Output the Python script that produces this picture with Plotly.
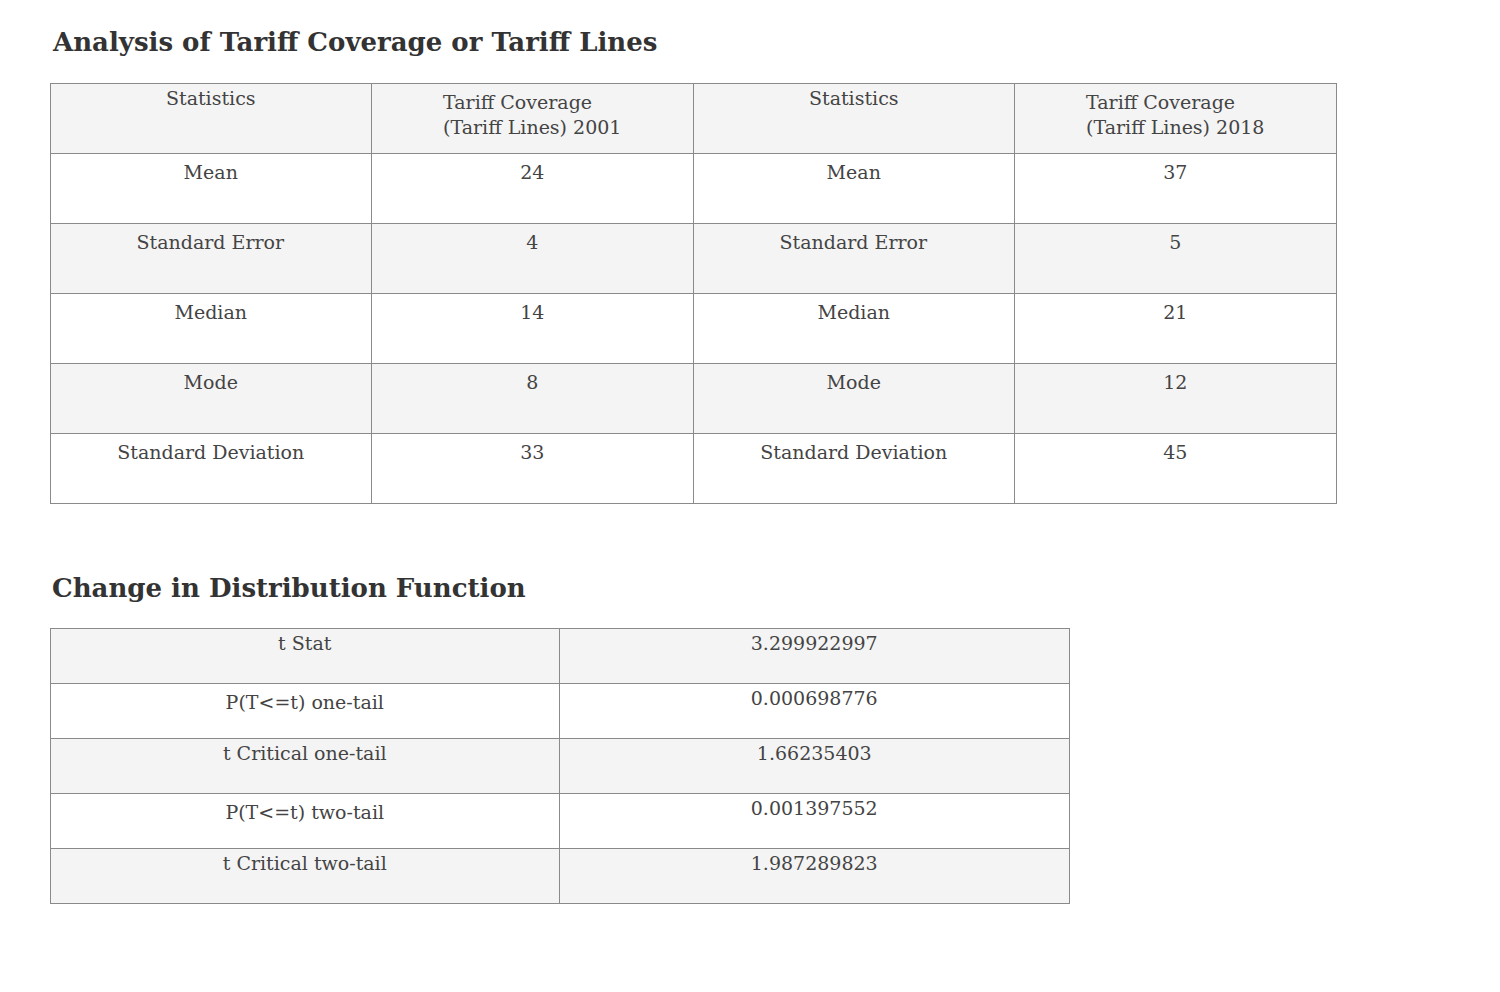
import plotly.graph_objects as go

W, H = 1500, 992

# Table 1 data
stats_labels = ["Mean", "Standard Error", "Median", "Mode", "Standard Deviation"]
cov_2001 = [24, 4, 14, 8, 33]
cov_2018 = [37, 5, 21, 12, 45]
headers1 = ["Statistics", "Tariff Coverage<br>(Tariff Lines) 2001",
            "Statistics", "Tariff Coverage<br>(Tariff Lines) 2018"]

# Table 2 data
test_labels = ["t Stat", "P(T<=t) one-tail", "t Critical one-tail",
               "P(T<=t) two-tail", "t Critical two-tail"]
test_values = ["3.299922997", "0.000698776", "1.66235403",
               "0.001397552", "1.987289823"]

FONT = "DejaVu Serif"
TXT = "#444444"
GREY = "#f4f4f4"
LINE = "#8a8a8a"
OFF = 8  # plotly table inner offset


def px_x(a, b):
    return [(a - OFF) / W, (b - OFF) / W]


def px_y(top, bottom):
    return [1 - (bottom - OFF) / H, 1 - (top - OFF) / H]


def pad(vals):
    # push text down so it sits near the middle of tall rows
    return [f"<br>{v}" for v in vals]


fig = go.Figure()

row_fill1 = ["white" if i % 2 == 0 else GREY for i in range(len(stats_labels))]
fig.add_trace(go.Table(
    domain=dict(x=px_x(50, 1336), y=px_y(83, 510)),
    columnwidth=[1, 1, 1, 1],
    header=dict(values=headers1, fill_color=GREY, line_color=LINE,
                align="center", height=70,
                font=dict(family=FONT, size=19, color=TXT)),
    cells=dict(values=[pad(stats_labels), pad(cov_2001),
                       pad(stats_labels), pad(cov_2018)],
               fill_color=[row_fill1] * 4, line_color=LINE, align="center",
               height=70, font=dict(family=FONT, size=19, color=TXT)),
))

row_fill2 = [GREY if i % 2 == 0 else "white" for i in range(len(test_labels))]
fig.add_trace(go.Table(
    domain=dict(x=px_x(50, 1069), y=px_y(628, 906)),
    columnwidth=[1, 1],
    header=dict(values=[test_labels[0], test_values[0]], fill_color=GREY,
                line_color=LINE, align="center", height=55,
                font=dict(family=FONT, size=19, color=TXT)),
    cells=dict(values=[test_labels[1:], test_values[1:]],
               fill_color=[row_fill2[1:]] * 2, line_color=LINE, align="center",
               height=55, font=dict(family=FONT, size=19, color=TXT)),
))

for text, y in [("Analysis of Tariff Coverage or Tariff Lines", 42),
                ("Change in Distribution Function", 588)]:
    fig.add_annotation(text=f"<b>{text}</b>", x=(50 - OFF) / W, y=1 - (y - OFF) / H,
                       xref="paper", yref="paper", xanchor="left",
                       yanchor="middle", showarrow=False,
                       font=dict(family=FONT, size=26, color="#333333"))

fig.update_layout(width=W, height=H, margin=dict(l=0, r=0, t=0, b=0),
                  paper_bgcolor="white", plot_bgcolor="white")

fig.write_html("out.html")
